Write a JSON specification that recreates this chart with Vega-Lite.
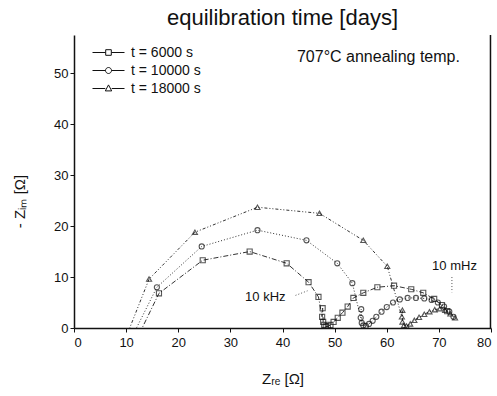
{
  "$schema": "https://vega.github.io/schema/vega-lite/v6.json",
  "width": 417,
  "height": 293,
  "autosize": {"type": "none"},
  "padding": {"left": 74, "top": 35, "right": 6, "bottom": 68},
  "config": {
    "font": "Liberation Sans",
    "view": {"stroke": null},
    "axis": {"labelFont": "Liberation Sans", "titleFont": "Liberation Sans", "labelColor": "#111", "titleColor": "#111", "domainColor": "#111", "tickColor": "#111", "grid": false, "labelFontSize": 13, "titleFontSize": 15, "titleFontWeight": "normal", "domainWidth": 1.5}
  },
  "title": {"text": "equilibration time [days]", "font": "Liberation Sans", "fontSize": 22, "fontWeight": "normal", "color": "#111", "offset": 4, "anchor": "middle"},
  "datasets": {
    "pts": [
      {"series": "t = 6000 s", "zre": 12.6, "zim": -1},
      {"series": "t = 6000 s", "zre": 16.3, "zim": 6.8},
      {"series": "t = 6000 s", "zre": 24.7, "zim": 13.3},
      {"series": "t = 6000 s", "zre": 33.7, "zim": 15.0},
      {"series": "t = 6000 s", "zre": 40.8, "zim": 12.7},
      {"series": "t = 6000 s", "zre": 45.0, "zim": 9.0},
      {"series": "t = 6000 s", "zre": 46.9, "zim": 6.1},
      {"series": "t = 6000 s", "zre": 47.7, "zim": 3.9},
      {"series": "t = 6000 s", "zre": 47.6, "zim": 2.2},
      {"series": "t = 6000 s", "zre": 47.8, "zim": 1.2},
      {"series": "t = 6000 s", "zre": 48.0, "zim": 0.6},
      {"series": "t = 6000 s", "zre": 48.3, "zim": 0.3},
      {"series": "t = 6000 s", "zre": 48.7, "zim": 0.3},
      {"series": "t = 6000 s", "zre": 49.2, "zim": 0.6},
      {"series": "t = 6000 s", "zre": 49.8, "zim": 1.2},
      {"series": "t = 6000 s", "zre": 50.6, "zim": 2.0},
      {"series": "t = 6000 s", "zre": 51.5, "zim": 3.0},
      {"series": "t = 6000 s", "zre": 52.5, "zim": 4.2},
      {"series": "t = 6000 s", "zre": 53.6, "zim": 5.9},
      {"series": "t = 6000 s", "zre": 55.5, "zim": 6.9},
      {"series": "t = 6000 s", "zre": 58.2, "zim": 8.0},
      {"series": "t = 6000 s", "zre": 61.4, "zim": 8.3},
      {"series": "t = 6000 s", "zre": 64.7, "zim": 7.6},
      {"series": "t = 6000 s", "zre": 67.0, "zim": 6.9},
      {"series": "t = 6000 s", "zre": 69.1, "zim": 5.7},
      {"series": "t = 6000 s", "zre": 70.6, "zim": 4.5},
      {"series": "t = 6000 s", "zre": 71.6, "zim": 3.3},
      {"series": "t = 10000 s", "zre": 11.5, "zim": -1},
      {"series": "t = 10000 s", "zre": 15.9, "zim": 8.0},
      {"series": "t = 10000 s", "zre": 24.5, "zim": 16.0},
      {"series": "t = 10000 s", "zre": 35.2, "zim": 19.2},
      {"series": "t = 10000 s", "zre": 44.6, "zim": 17.2},
      {"series": "t = 10000 s", "zre": 50.5, "zim": 12.7},
      {"series": "t = 10000 s", "zre": 53.4, "zim": 8.8},
      {"series": "t = 10000 s", "zre": 55.1, "zim": 3.7},
      {"series": "t = 10000 s", "zre": 55.0, "zim": 2.0},
      {"series": "t = 10000 s", "zre": 55.2, "zim": 1.0},
      {"series": "t = 10000 s", "zre": 55.5, "zim": 0.5},
      {"series": "t = 10000 s", "zre": 56.0, "zim": 0.4},
      {"series": "t = 10000 s", "zre": 56.6, "zim": 0.8},
      {"series": "t = 10000 s", "zre": 57.3, "zim": 1.4},
      {"series": "t = 10000 s", "zre": 58.0, "zim": 2.2},
      {"series": "t = 10000 s", "zre": 59.0, "zim": 3.2},
      {"series": "t = 10000 s", "zre": 60.0, "zim": 4.1},
      {"series": "t = 10000 s", "zre": 61.2, "zim": 5.0},
      {"series": "t = 10000 s", "zre": 62.5, "zim": 5.6},
      {"series": "t = 10000 s", "zre": 64.0, "zim": 5.9},
      {"series": "t = 10000 s", "zre": 65.6, "zim": 5.9},
      {"series": "t = 10000 s", "zre": 67.2, "zim": 5.8},
      {"series": "t = 10000 s", "zre": 68.6, "zim": 5.5},
      {"series": "t = 10000 s", "zre": 69.8, "zim": 5.0},
      {"series": "t = 10000 s", "zre": 71.0, "zim": 4.2},
      {"series": "t = 10000 s", "zre": 72.0, "zim": 3.2},
      {"series": "t = 10000 s", "zre": 72.8, "zim": 2.2},
      {"series": "t = 18000 s", "zre": 10.3, "zim": -1},
      {"series": "t = 18000 s", "zre": 14.4, "zim": 9.6},
      {"series": "t = 18000 s", "zre": 23.2, "zim": 18.8},
      {"series": "t = 18000 s", "zre": 35.2, "zim": 23.7},
      {"series": "t = 18000 s", "zre": 47.1, "zim": 22.5},
      {"series": "t = 18000 s", "zre": 55.5, "zim": 17.2},
      {"series": "t = 18000 s", "zre": 60.1, "zim": 12.1},
      {"series": "t = 18000 s", "zre": 63.0, "zim": 3.5},
      {"series": "t = 18000 s", "zre": 62.9, "zim": 2.2},
      {"series": "t = 18000 s", "zre": 63.0, "zim": 1.2},
      {"series": "t = 18000 s", "zre": 63.3, "zim": 0.5},
      {"series": "t = 18000 s", "zre": 63.8, "zim": 0.4},
      {"series": "t = 18000 s", "zre": 64.5, "zim": 0.8},
      {"series": "t = 18000 s", "zre": 65.3, "zim": 1.5},
      {"series": "t = 18000 s", "zre": 66.2, "zim": 2.1},
      {"series": "t = 18000 s", "zre": 67.2, "zim": 2.7},
      {"series": "t = 18000 s", "zre": 68.2, "zim": 3.2},
      {"series": "t = 18000 s", "zre": 69.2, "zim": 3.6},
      {"series": "t = 18000 s", "zre": 70.2, "zim": 3.8},
      {"series": "t = 18000 s", "zre": 71.2, "zim": 3.5},
      {"series": "t = 18000 s", "zre": 72.2, "zim": 2.8},
      {"series": "t = 18000 s", "zre": 73.1, "zim": 2.0}
    ]
  },
  "resolve": {"scale": {"shape": "independent"}, "legend": {"shape": "independent"}},
  "layer": [
    {
      "data": {"name": "pts"},
      "mark": {"type": "line", "clip": true, "strokeWidth": 1, "color": "#333"},
      "encoding": {
        "x": {"field": "zre", "type": "quantitative", "scale": {"domain": [0, 80], "nice": false}, "axis": {"title": "Zᵣₑ [Ω]", "values": [0,10,20,30,40,50,60,70,80], "labelPadding": 4, "titleY": 43, "tickSize": 4}},
        "y": {"field": "zim", "type": "quantitative", "scale": {"domain": [0, 57.5], "nice": false}, "axis": {"title": "- Zᵢₘ [Ω]", "values": [0,10,20,30,40,50], "titleX": -47, "titleY": 166, "tickSize": 4}},
        "detail": {"field": "series"},
        "strokeDash": {"field": "series", "type": "nominal", "scale": {"domain": ["t = 6000 s", "t = 10000 s", "t = 18000 s"], "range": [[5,2,1,2], [1,2], [3,2,1,2,1,2]]}, "legend": null}
      }
    },
    {
      "data": {"name": "pts"},
      "mark": {"type": "point", "clip": true, "filled": false, "strokeWidth": 1.1, "color": "#111", "size": 26},
      "encoding": {
        "x": {"field": "zre", "type": "quantitative"},
        "y": {"field": "zim", "type": "quantitative"},
        "shape": {"field": "series", "type": "nominal", "scale": {"domain": ["t = 6000 s", "t = 10000 s", "t = 18000 s"], "range": ["square", "circle", "triangle-up"]}, "legend": null}
      }
    },
    {
      "data": {"name": "pts"},
      "mark": {"type": "point", "opacity": 0.001, "filled": false, "size": 1, "color": "#111"},
      "encoding": {
        "x": {"field": "zre", "type": "quantitative"},
        "y": {"field": "zim", "type": "quantitative"},
        "shape": {
          "field": "series", "type": "nominal",
          "scale": {"domain": ["t = 6000 s", "t = 10000 s", "t = 18000 s"], "range": [
            "M-1.6,0H-0.3M0.3,0H1.6M-0.28,-0.28H0.28V0.28H-0.28Z",
            "M-1.6,0H-0.3M0.3,0H1.6M0.3,0A0.3,0.3,0,1,1,-0.3,0A0.3,0.3,0,1,1,0.3,0Z",
            "M-1.6,0H-0.32M0.32,0H1.6M0,-0.36L0.32,0.24H-0.32Z"
          ]},
          "legend": {
            "title": null, "orient": "none", "legendX": 24, "legendY": 7,
            "symbolSize": 400, "symbolOpacity": 1, "symbolFillColor": "transparent", "symbolStrokeColor": "#111", "symbolStrokeWidth": 1,
            "labelFontSize": 14, "labelFont": "Liberation Sans", "labelColor": "#111", "rowPadding": 0, "labelOffset": 12
          }
        }
      }
    },
    {
      "data": {"values": [{}]},
      "mark": {"type": "text", "fontSize": 16, "font": "Liberation Sans", "color": "#111"},
      "encoding": {"x": {"datum": 58.4}, "y": {"datum": 53.2}, "text": {"value": "707°C annealing temp."}}
    },
    {
      "data": {"values": [{}]},
      "mark": {"type": "text", "fontSize": 13, "font": "Liberation Sans", "color": "#111"},
      "encoding": {"x": {"datum": 36.7}, "y": {"datum": 6.1}, "text": {"value": "10 kHz"}}
    },
    {
      "data": {"values": [{}]},
      "mark": {"type": "text", "fontSize": 13, "font": "Liberation Sans", "color": "#111"},
      "encoding": {"x": {"datum": 73.0}, "y": {"datum": 12.1}, "text": {"value": "10 mHz"}}
    },
    {
      "data": {"values": [{}]},
      "mark": {"type": "rule", "strokeDash": [1, 2], "color": "#555"},
      "encoding": {"x": {"datum": 42.5}, "y": {"datum": 6.4}, "x2": {"datum": 44.8}, "y2": {"datum": 7.3}}
    },
    {
      "data": {"values": [{}]},
      "mark": {"type": "rule", "strokeDash": [1, 2], "color": "#555"},
      "encoding": {"x": {"datum": 72.5}, "y": {"datum": 10.0}, "x2": {"datum": 72.5}, "y2": {"datum": 7.0}}
    },
    {
      "data": {"values": [{}]},
      "mark": {"type": "rule", "color": "#111", "strokeWidth": 1.5},
      "encoding": {"x": {"datum": 79.9}}
    }
  ]
}
